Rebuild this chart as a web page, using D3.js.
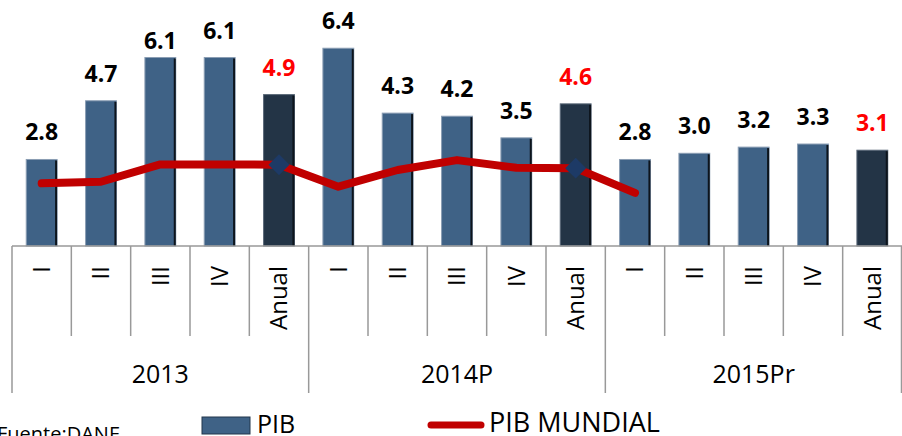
<!DOCTYPE html>
<html>
<head>
<meta charset="utf-8">
<script src="https://cdn.jsdelivr.net/npm/d3@7"></script>
<style>
  body { margin: 0; background: #fff; }
  svg { display: block; font-family: "Open Sans", sans-serif; }
</style>
</head>
<body>
<div class="svg-container"></div>
<script>
// data
const years = ["2013", "2014P", "2015Pr"];
const quarters = ["I", "II", "III", "IV", "Anual"];
const pib = [2.8, 4.7, 6.1, 6.1, 4.9, 6.4, 4.3, 4.2, 3.5, 4.6, 2.8, 3.0, 3.2, 3.3, 3.1];
const pibMundial = [2.03, 2.08, 2.64, 2.64, 2.63, 1.92, 2.46, 2.78, 2.53, 2.52, 1.72];

const width = 902, height = 436;
const baseY = 246;

const svg = d3.select('.svg-container')
    .append('svg')
    .attr('width', width)
    .attr('height', height);

const rows = [];
years.forEach((yr, gi) => quarters.forEach((q, qi) => {
  const i = gi * quarters.length + qi;
  rows.push({key: yr + "-" + q, year: yr, q: q, value: pib[i], mundial: pibMundial[i], annual: q === "Anual"});
}));

// one cell per category
const x = d3.scaleBand()
    .domain(rows.map(d => d.key))
    .range([12, 902])
    .padding(0);

const y = d3.scaleLinear()
    .domain([0, 7])
    .range([baseY, baseY - 7 * 30.9]);

const barW = x.bandwidth() * 0.52;
const barX = d => x(d.key) + (x.bandwidth() - barW) / 2;
const cx = d => x(d.key) + x.bandwidth() / 2;

// bars
const bars = svg.append('g');
bars.selectAll('rect.bar')
  .data(rows)
  .enter().append('rect')
    .attr('class', 'bar')
    .attr('x', barX)
    .attr('y', d => y(d.value))
    .attr('width', barW)
    .attr('height', d => y(0) - y(d.value))
    .attr('fill', d => d.annual ? '#233446' : '#3f6286')
    .attr('stroke', d => d.annual ? '#5a6878' : '#8a9db3')
    .attr('stroke-width', 1);

// dark right edge
bars.selectAll('rect.edge')
  .data(rows)
  .enter().append('rect')
    .attr('class', 'edge')
    .attr('x', d => barX(d) + barW - 2)
    .attr('y', d => y(d.value) + 1)
    .attr('width', 2)
    .attr('height', d => y(0) - y(d.value) - 1)
    .attr('fill', '#0d141c');

// axis lines
const axisColor = '#999';
const ax = svg.append('g').attr('stroke', axisColor).attr('stroke-width', 1.5);
ax.append('line')
  .attr('x1', 12).attr('x2', width)
  .attr('y1', baseY).attr('y2', baseY);

ax.selectAll('line.tick')
  .data(rows)
  .enter().append('line')
    .attr('class', 'tick')
    .attr('x1', d => x(d.key)).attr('x2', d => x(d.key))
    .attr('y1', baseY)
    .attr('y2', d => d.q === "I" ? 393 : 336);

ax.append('line')
  .attr('x1', width - 0.5).attr('x2', width - 0.5)
  .attr('y1', baseY).attr('y2', 393);

// quarter labels, rotated
svg.append('g').selectAll('text')
  .data(rows)
  .enter().append('text')
    .attr('transform', d => `translate(${cx(d)},266) rotate(-90)`)
    .attr('text-anchor', 'end')
    .attr('dy', '0.35em')
    .style('font-size', '24px')
    .attr('fill', '#000')
    .text(d => d.q);

// year labels
svg.append('g').selectAll('text')
  .data(years)
  .enter().append('text')
    .attr('x', yr => {
      const ks = rows.filter(r => r.year === yr);
      return (x(ks[0].key) + x(ks[ks.length - 1].key) + x.bandwidth()) / 2;
    })
    .attr('y', 383)
    .attr('text-anchor', 'middle')
    .style('font-size', '25px')
    .text(yr => yr);

// world GDP line
const lineData = rows.filter(d => d.mundial != null);
const line = d3.line().x(cx).y(d => y(d.mundial));
svg.append('path')
  .datum(lineData)
  .attr('d', line)
  .attr('fill', 'none')
  .attr('stroke', '#c00000')
  .attr('stroke-width', 8)
  .attr('stroke-linejoin', 'round')
  .attr('stroke-linecap', 'round');

svg.append('g').selectAll('path')
  .data(lineData.filter(d => d.annual))
  .enter().append('path')
    .attr('transform', d => `translate(${cx(d)},${y(d.mundial)})`)
    .attr('d', d3.symbol(d3.symbolDiamond2, 280))
    .attr('fill', '#1d3a66');

// value labels (Q3 2013 sits a bit lower in the original)
const labelNudge = {2: 10};
svg.append('g').selectAll('text')
  .data(rows)
  .enter().append('text')
    .attr('x', cx)
    .attr('y', (d, i) => y(d.value) - 19 + (labelNudge[i] || 0))
    .attr('text-anchor', 'middle')
    .style('font-size', '23px')
    .style('font-weight', 'bold')
    .attr('fill', d => d.annual ? '#ff0000' : '#000')
    .text(d => d.value.toFixed(1));

// source + legend (cut at the bottom edge as in the original)
svg.append('text')
  .attr('x', -3).attr('y', 441)
  .style('font-size', '20px')
  .text('Fuente:DANE');

svg.append('rect')
  .attr('x', 202).attr('y', 417)
  .attr('width', 48).attr('height', 17)
  .attr('fill', '#3f6286')
  .attr('stroke', '#22364d').attr('stroke-width', 1);
svg.append('text')
  .attr('x', 257).attr('y', 433)
  .style('font-size', '25px')
  .text('PIB');

svg.append('line')
  .attr('x1', 431).attr('x2', 481)
  .attr('y1', 425).attr('y2', 425)
  .attr('stroke', '#c00000')
  .attr('stroke-width', 7)
  .attr('stroke-linecap', 'round');
svg.append('text')
  .attr('x', 489).attr('y', 432)
  .style('font-size', '27px')
  .text('PIB MUNDIAL');
</script>
</body>
</html>
